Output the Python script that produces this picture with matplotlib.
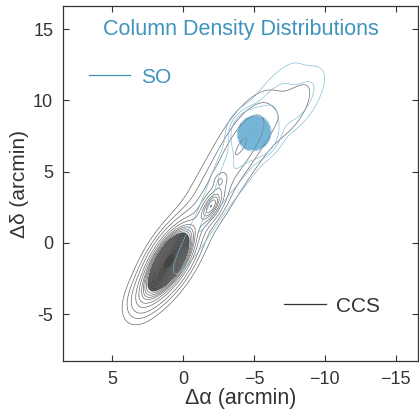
import numpy as np
import matplotlib.pyplot as plt
from matplotlib.lines import Line2D

plt.rcParams['font.family'] = ['Liberation Sans', 'DejaVu Sans']

# clumps: centre (arcmin), size along / across the ridge (arcmin), peak
ccs_x = [1.0, 2.8, -2.0, -2.4, -4.6, -7.8, -2.6]
ccs_y = [-1.3, -3.8, 2.55, 4.0, 7.6, 9.4, 4.4]
ccs_long = [1.7, 1.2, 0.9, 3.5, 2.0, 2.0, 0.35]
ccs_wide = [0.75, 0.7, 0.4, 0.95, 0.9, 0.8, 0.3]
ccs_peak = [1.0, 0.14, 0.3, 0.15, 0.12, 0.06, 0.08]
ccs_levels = [0.04, 0.08, 0.13, 0.2, 0.26, 0.32, 0.36, 0.4, 0.44, 0.48, 0.52, 0.56,
              0.6, 0.64, 0.68, 0.72, 0.76, 0.8, 0.84, 0.88, 0.92, 0.96]

so_x = [-5.0, -5.0, -8.5, -1.0]
so_y = [7.7, 7.5, 10.0, 0.5]
so_long = [0.7, 3.5, 1.8, 3.0]
so_wide = [0.7, 0.9, 0.7, 0.6]
so_peak = [1.0, 0.12, 0.07, 0.05]
so_levels = [0.03, 0.06, 0.1, 0.3, 0.4, 0.5, 0.6, 0.7, 0.8, 0.9]

ridge = np.array([-0.516, 0.856])  # direction of the filament


def column_map(X, Y, cx, cy, slong, swide, peak):
    Z = np.zeros_like(X)
    for x0, y0, a, b, p in zip(cx, cy, slong, swide, peak):
        u = (X - x0) * ridge[0] + (Y - y0) * ridge[1]
        v = (X - x0) * ridge[1] - (Y - y0) * ridge[0]
        Z += p * np.exp(-0.5 * ((u / a) ** 2 + (v / b) ** 2))
    return Z


xs = np.linspace(-17, 9, 400)
ys = np.linspace(-9, 17, 400)
X, Y = np.meshgrid(xs, ys)
ccs = column_map(X, Y, ccs_x, ccs_y, ccs_long, ccs_wide, ccs_peak)
so = column_map(X, Y, so_x, so_y, so_long, so_wide, so_peak)

blue = '#3f93bd'
dark = '#333333'

fig = plt.figure(figsize=(4.19, 4.15), dpi=100)
ax = fig.add_axes([0.150, 0.130, 0.848, 0.855])

ax.contourf(X, Y, ccs, levels=[0.5, 2], colors=['#222222'], alpha=0.85)
ax.contour(X, Y, ccs, levels=ccs_levels, colors='#6a6a6a', linewidths=0.5)
ax.contourf(X, Y, so, levels=[0.35, 2], colors=['#5aa7d0'], alpha=0.85)
ax.contour(X, Y, so, levels=so_levels, colors='#7ab8d8', linewidths=0.45)

ax.set_xlim(8.5, -16.6)
ax.set_ylim(-8.3, 16.6)
ax.set_xticks([5, 0, -5, -10, -15])
ax.set_xticklabels(['5', '0', '\u22125', '\u221210', '\u221215'])
ax.set_yticks([-5, 0, 5, 10, 15])
ax.set_yticklabels(['-5', '0', '5', '10', '15'])
ax.tick_params(direction='in', top=True, right=True, length=4, width=0.8,
               labelsize=13, colors=dark, pad=7)
for s in ax.spines.values():
    s.set_color(dark)
    s.set_linewidth(0.9)

ax.set_xlabel('\u0394\u03b1 (arcmin)', fontsize=15.5, color=dark, labelpad=0)
ax.set_ylabel('\u0394\u03b4 (arcmin)', fontsize=15, color=dark, labelpad=3)

ax.text(0.5, 0.935, 'Column Density Distributions', transform=ax.transAxes,
        ha='center', va='center', fontsize=15.5, color=blue)

so_leg = ax.legend(handles=[Line2D([], [], color=blue, lw=0.9)], labels=['SO'],
                   loc='center left', bbox_to_anchor=(0.02, 0.80), frameon=False,
                   fontsize=15, handlelength=2.0, handletextpad=0.5, labelcolor=blue)
ax.add_artist(so_leg)
ax.legend(handles=[Line2D([], [], color=dark, lw=0.9)], labels=['CCS'],
          loc='center left', bbox_to_anchor=(0.57, 0.155), frameon=False,
          fontsize=15, handlelength=2.0, handletextpad=0.5, labelcolor=dark)

fig.savefig('out.png', dpi=100)
